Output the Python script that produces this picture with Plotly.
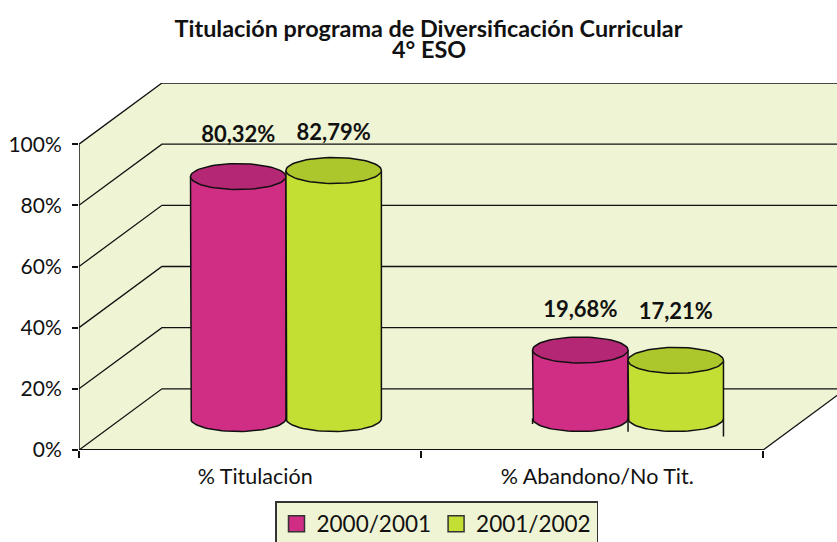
import numpy as np
import plotly.graph_objects as go

# Data
categories = ["% Titulación", "% Abandono/No Tit."]
series_names = ["2000/2001", "2001/2002"]
printed_2000 = [80.32, 19.68]   # values printed over the cylinders
printed_2001 = [82.79, 17.21]
# Cylinder heights as they read against the axis (the source drawing is not exactly to scale)
height_2000 = [79.1, 22.4]
height_2001 = [81.1, 19.0]
label_height_2000 = [102.6, 45.3]
label_height_2001 = [103.3, 44.7]
y_ticks = [0, 20, 40, 60, 80, 100]
y_tick_text = ["0%", "20%", "40%", "60%", "80%", "100%"]

# Style and geometry
WALL = "#EFF4D4"
COL = ["#D02D85", "#C3DF34"]
TOP = ["#B32774", "#ACC72C"]
INK = "#111111"
FONT = "Lato"
W, H = 837, 542
L, B = 78.5, 91.5
PX_Y = 3.065
PX_X = 342.3
T = H - B - 120 * PX_Y
X0, X1, XMAX = -0.5, 1.5, -0.5 + (W - L) / PX_X
DX, DY = 83 / PX_X, 20
BASE = 10.3
BAR_W = 0.279
OFFSETS = [-0.174, 0.105]
RY = 13 / PX_Y
LABEL_SHIFT = 0.015

fig = go.Figure()
line = dict(color=INK, width=1.5)


def add_line(xs, ys, width=1.5):
    fig.add_trace(go.Scatter(x=xs, y=ys, mode="lines", line=dict(color=INK, width=width),
                             showlegend=False, hoverinfo="skip", cliponaxis=True))


# Walls and floor
slope = DY / DX
fig.add_trace(go.Scatter(
    x=[X0, X0 + DX, XMAX, XMAX, X1, X0, X0],
    y=[100, 100 + DY, 100 + DY, (XMAX - X1) * slope, 0, 0, 100],
    mode="none", fill="toself", fillcolor=WALL, showlegend=False, hoverinfo="skip"))
# Gridlines running along side wall and back wall
for v in y_ticks:
    add_line([X0, X0 + DX, XMAX], [v, v + DY, v + DY], 1.3)
add_line([X0, X0], [0, 100], 1.5)
add_line([X1, X1 + DX], [0, DY], 1.3)
fig.add_trace(go.Scatter(x=[X0, X1], y=[0, 0], mode="lines", line=dict(color=INK, width=2),
                         showlegend=False, hoverinfo="skip", cliponaxis=False))

# Cylinder bodies
t = np.linspace(0, 2 * np.pi, 73)
cats = [0, 1]
for s, heights in enumerate([height_2000, height_2001]):
    fig.add_trace(go.Bar(x=cats, y=heights, base=BASE, width=BAR_W, offset=OFFSETS[s],
                         marker=dict(color=COL[s], line=dict(width=0)),
                         showlegend=False, hoverinfo="skip"))

# Stray side-line stubs under the second group, as in the source
stub_x = [1 + OFFSETS[0], 1 + OFFSETS[1], 1 + OFFSETS[1] + BAR_W]
stub_bottom = [8.5, 6.0, 4.4]
for sx, sb in zip(stub_x, stub_bottom):
    add_line([sx, sx], [BASE, sb], 1.5)

for s, heights in enumerate([height_2000, height_2001]):
    for c, h in zip(cats, heights):
        left = c + OFFSETS[s]
        cx = left + BAR_W / 2
        rx = BAR_W / 2
        top = BASE + h
        arc = np.linspace(np.pi, 2 * np.pi, 37)
        xs = [left] + list(cx + rx * np.cos(arc)) + [left + BAR_W]
        ys = [top] + list(BASE + RY * np.sin(arc)) + [top]
        fig.add_trace(go.Scatter(x=xs, y=ys, mode="lines", fill="toself", fillcolor=COL[s],
                                 line=line, showlegend=False, hoverinfo="skip"))
        fig.add_trace(go.Scatter(x=cx + rx * np.cos(t), y=top + RY * np.sin(t), mode="lines",
                                 fill="toself", fillcolor=TOP[s], line=line,
                                 showlegend=False, hoverinfo="skip"))

# Value labels
for s, (vals, lab_h) in enumerate([(printed_2000, label_height_2000), (printed_2001, label_height_2001)]):
    fig.add_trace(go.Scatter(
        x=[c + OFFSETS[s] + BAR_W / 2 for c in cats], y=lab_h, mode="text",
        text=[f"{v:.2f}%".replace(".", ",") for v in vals], textposition="middle center",
        textfont=dict(family=FONT, size=22, color="#111111", weight="bold"),
        showlegend=False, hoverinfo="skip"))

# Legend entries
for s, name in enumerate(series_names):
    fig.add_trace(go.Scatter(x=[None], y=[None], mode="markers", name=name,
                             marker=dict(symbol="square", size=16, color=COL[s],
                                         line=dict(color="#333333", width=1.5))))

# Category labels on an overlaid axis
fig.add_trace(go.Scatter(x=[None], y=[None], xaxis="x2", showlegend=False, hoverinfo="skip"))

plot_h = H - B - T
fig.update_layout(
    width=W, height=H, autosize=False,
    margin=dict(l=L, r=0, t=T, b=B, pad=0),
    paper_bgcolor="white", plot_bgcolor="rgba(0,0,0,0)",
    font=dict(family=FONT, color="#111111"),
    title=dict(text="<b>Titulación programa de Diversificación Curricular</b>",
               x=428.5 / W, xanchor="center", y=1 - 29 / H, yanchor="middle",
               font=dict(family=FONT, size=23.4, color="#111111")),
    annotations=[dict(text="<b>4° ESO</b>", x=(428.5 - L) / (W - L), y=(H - B - 49) / plot_h,
                      xref="paper", yref="paper",
                      xanchor="center", yanchor="middle", showarrow=False,
                      font=dict(family=FONT, size=23.4, color="#111111"))],
    xaxis=dict(range=[X0, XMAX], showgrid=False, zeroline=False, showline=False,
               tickmode="array", tickvals=[-0.5, 0.5, 1.5], ticktext=["", "", ""],
               ticks="outside", ticklen=7, tickcolor=INK, tickwidth=1.5),
    xaxis2=dict(range=[X0, XMAX], overlaying="x", side="bottom", showgrid=False, zeroline=False,
                tickmode="array", tickvals=[c + LABEL_SHIFT for c in cats], ticktext=categories,
                ticks="", ticklabelstandoff=11,
                tickfont=dict(family=FONT, size=21.5, color="#111111")),
    yaxis=dict(range=[0, 120], showgrid=False, zeroline=False, showline=False,
               tickmode="array", tickvals=y_ticks, ticktext=y_tick_text,
               ticks="outside", ticklen=6, tickcolor=INK, tickwidth=1.5, ticklabelstandoff=6,
               tickfont=dict(family=FONT, size=21, color="#111111")),
    legend=dict(orientation="h", xref="container", yref="container",
                x=275 / W, xanchor="left", y=1 - 501 / H, yanchor="top",
                bgcolor=WALL, bordercolor="#333333", borderwidth=1.5,
                font=dict(family=FONT, size=22.5, color="#111111"),
                itemclick=False, itemdoubleclick=False, tracegroupgap=0),
    showlegend=True, barmode="overlay",
)
fig.write_html("out.html", config=dict(displayModeBar=False),
               post_script="document.body.style.margin='0';document.body.style.overflow='hidden';")
